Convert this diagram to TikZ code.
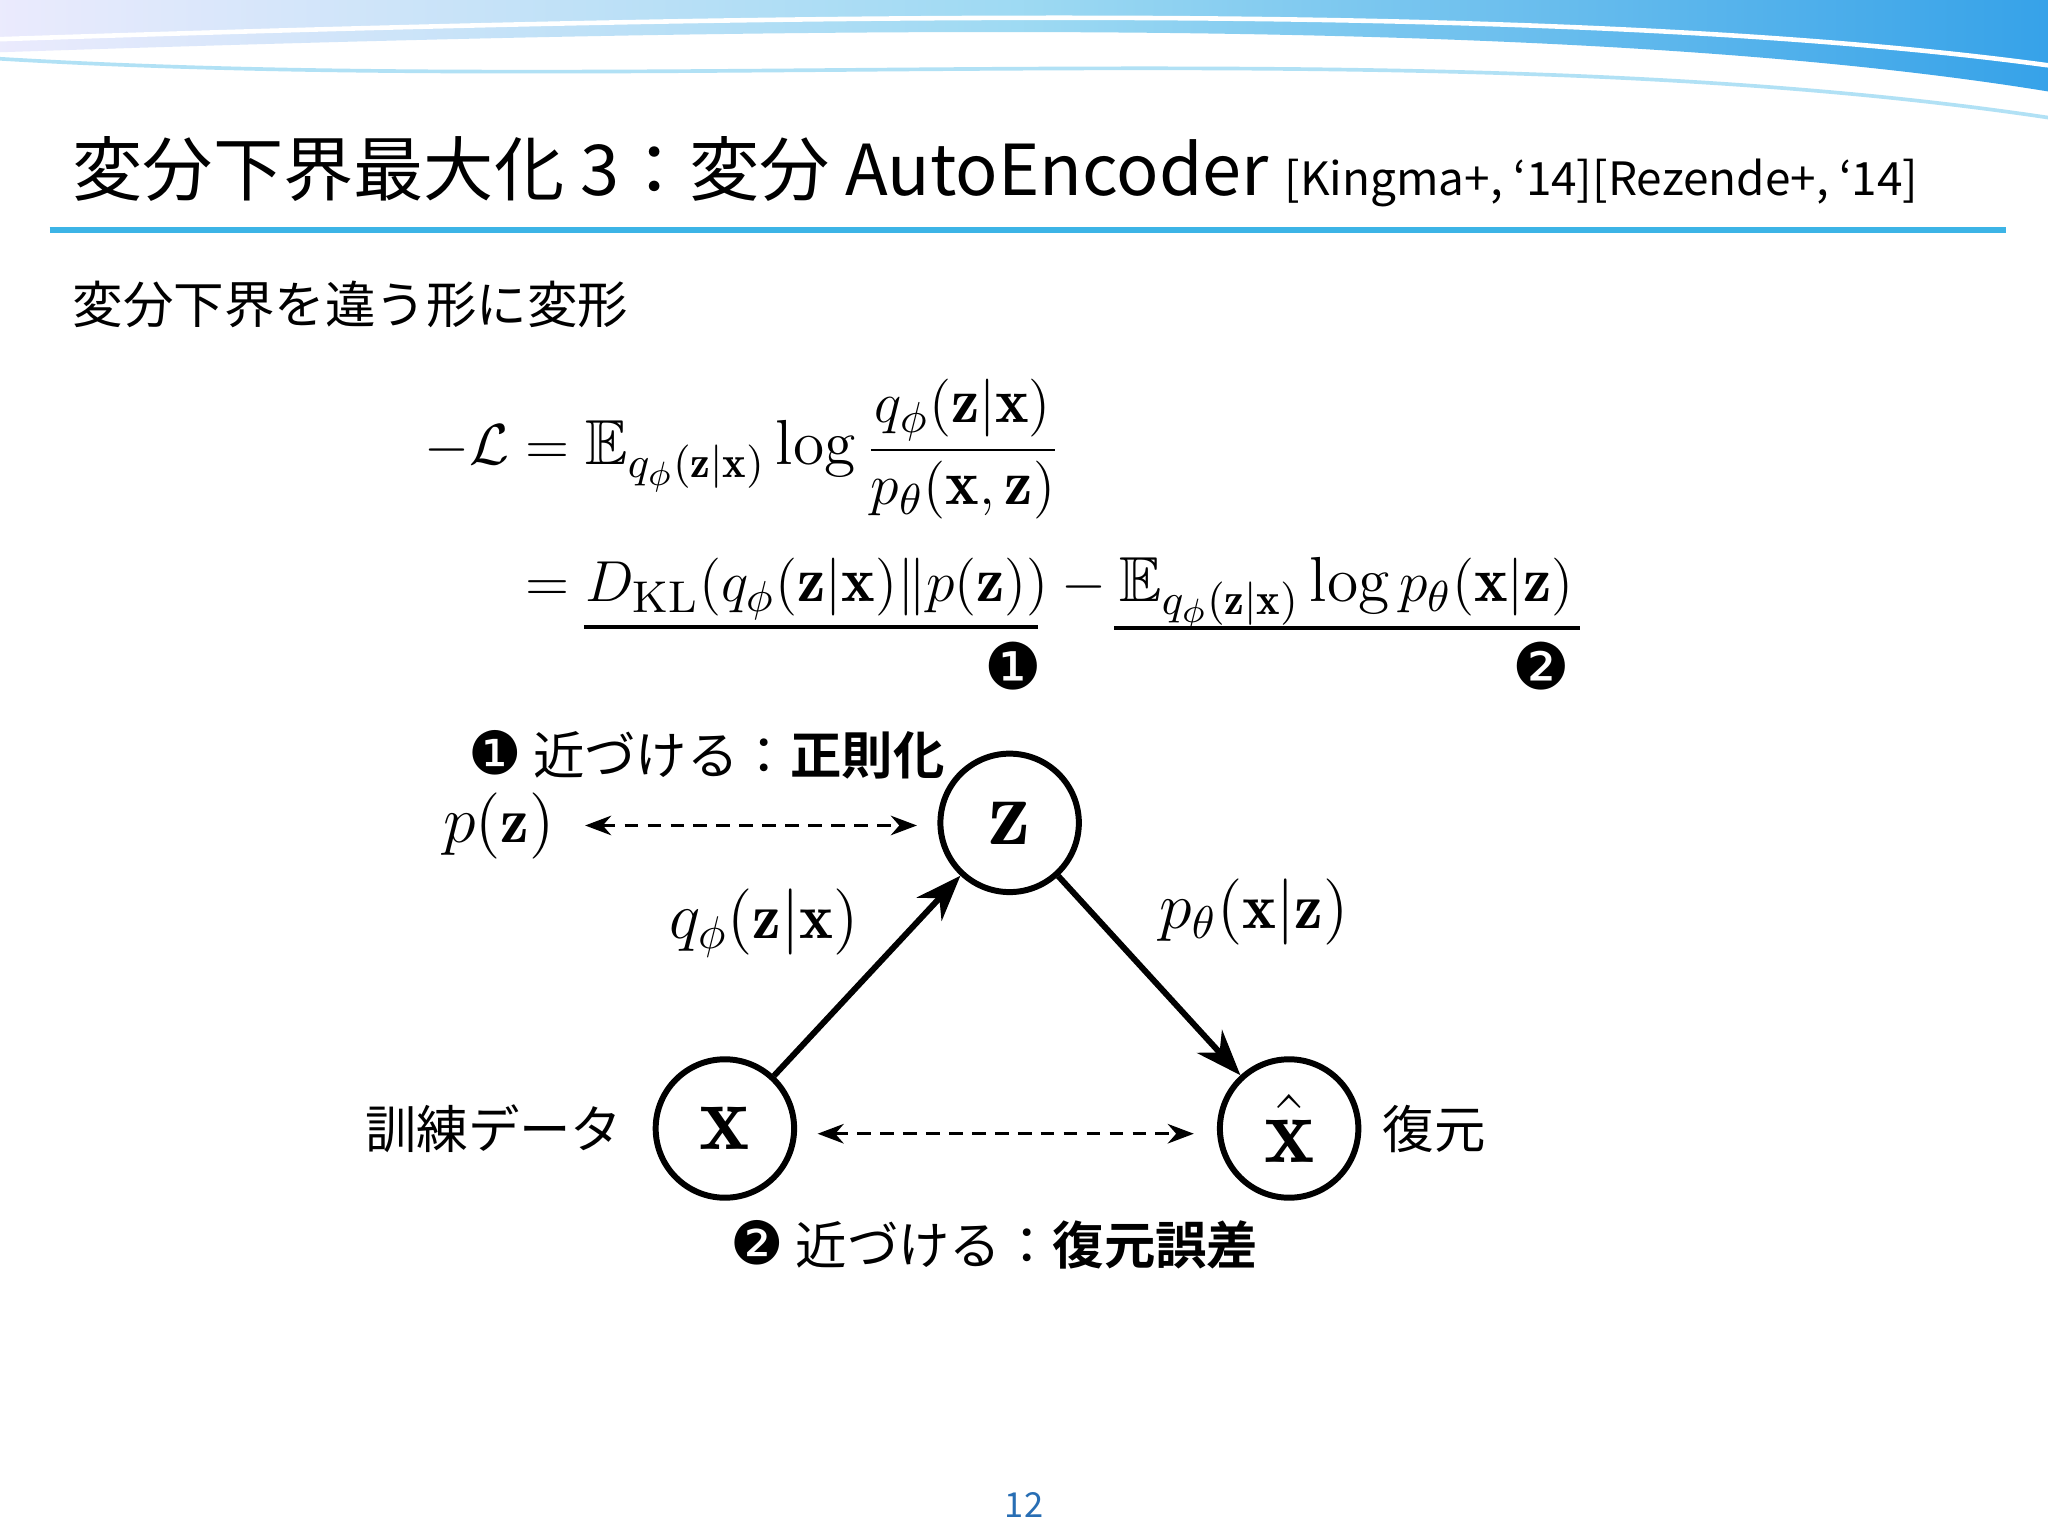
\documentclass[tikz,border=0pt]{standalone}
\usepackage{amsmath,amssymb,bm}
\usepackage{fontspec}
\newfontfamily\jp{Noto Sans CJK JP}[BoldFont={* Bold}]
\newfontfamily\djv{DejaVu Sans}
\usetikzlibrary{arrows.meta,shadings}
\definecolor{bar}{RGB}{60,180,230}
\definecolor{pn}{RGB}{40,110,180}
\tikzset{
  vnode/.style={circle,draw,line width=1.3pt,minimum size=10.6mm,inner sep=0pt,font=\huge},
  edgearr/.style={line width=1.3pt,-{Stealth[length=3.5mm,width=2.6mm]}},
  dasharr/.style={dash pattern=on 3pt off 2pt,line width=0.6pt,{Stealth[length=2mm]}-{Stealth[length=2mm]}},
  lbl/.style={font=\fontsize{14}{16}\selectfont},
  jtxt/.style={font=\jp\fontsize{11.2}{13}\selectfont}
}
\begin{document}
\begin{tikzpicture}[x=0.1mm,y=-0.1mm]
\useasboundingbox (0,0) rectangle (1568,1176);
\fill[white] (0,0) rectangle (1568,1176);
% banner
\shade[left color=black!10!blue!8, right color=bar!90!blue, middle color=bar!50]
 (0,0) -- (1568,0) -- (1568,70) .. controls (1200,10) and (600,20) .. (0,40) -- cycle;
\draw[white,line width=1pt] (0,30) .. controls (600,10) and (1200,0) .. (1568,50);
\draw[bar!40,line width=0.8pt] (0,45) .. controls (500,75) and (1100,20) .. (1568,90);
% title
\node[anchor=base west,inner sep=0,font=\jp\fontsize{15.3}{17}\selectfont] (title) at (55,150)
 {変分下界最大化 3：変分 AutoEncoder {\fontsize{10}{11}\selectfont [Kingma+, ‘14][Rezende+, ‘14]}};
\draw[bar,line width=1.4pt] (38,176) -- (1536,176);
\node[anchor=base west,inner sep=0,font=\jp\fontsize{11}{13}\selectfont] (sub) at (55,248) {変分下界を違う形に変形};
% equation
\node[anchor=center,inner sep=0,font=\fontsize{13.2}{16}\selectfont] (eq) at (765,386) {\scalebox{1.05}{$\begin{aligned}
-\mathcal{L} &= \mathbb{E}_{q_\phi(\mathbf{z}|\mathbf{x})}\log\frac{q_\phi(\mathbf{z}|\mathbf{x})}{p_\theta(\mathbf{x},\mathbf{z})}\\[2pt]
&= D_{\mathrm{KL}}(q_\phi(\mathbf{z}|\mathbf{x})\|p(\mathbf{z}))-\mathbb{E}_{q_\phi(\mathbf{z}|\mathbf{x})}\log p_\theta(\mathbf{x}|\mathbf{z})
\end{aligned}$}};
\coordinate (u1a) at (447,480); \coordinate (u1b) at (795,480);
\coordinate (u2a) at (853,481); \coordinate (u2b) at (1210,481);
\draw[line width=0.8pt] (u1a) -- (u1b);
\draw[line width=0.8pt] (u2a) -- (u2b);
\node[font=\djv\fontsize{14}{16}\selectfont] (n1) at (776,510) {❶};
\node[font=\djv\fontsize{14}{16}\selectfont] (n2) at (1180,510) {❷};
% graph
\node[vnode] (z) at (773,630) {$\mathbf{z}$};
\node[vnode] (x) at (555,864) {$\mathbf{x}$};
\node[vnode] (xh) at (987,864) {$\hat{\mathbf{x}}$};
\draw[edgearr] (x) -- (z);
\draw[edgearr] (z) -- (xh);
\node[lbl] (pz) at (382,632) {$p(\mathbf{z})$};
\coordinate (d1a) at (448,632); \coordinate (d1b) at (702,632);
\draw[dasharr] (d1a) -- (d1b);
\coordinate (d2a) at (626,868); \coordinate (d2b) at (914,868);
\draw[dasharr] (d2a) -- (d2b);
\node[lbl] (q) at (585,707) {$q_\phi(\mathbf{z}|\mathbf{x})$};
\node[lbl] (p) at (960,698) {$p_\theta(\mathbf{x}|\mathbf{z})$};
\node[jtxt] (tr) at (378,864) {訓練データ};
\node[jtxt] (re) at (1098,864) {復元};
\node[jtxt,anchor=west] (c1) at (346,578) {{\djv\fontsize{13}{14}\selectfont ❶} 近づける：\textbf{正則化}};
\node[jtxt,anchor=west] (c2) at (547,953) {{\djv\fontsize{13}{14}\selectfont ❷} 近づける：\textbf{復元誤差}};
\node[font=\jp\fontsize{7.5}{9}\selectfont,text=pn] (pg) at (784,1152) {12};
\end{tikzpicture}
\end{document}
